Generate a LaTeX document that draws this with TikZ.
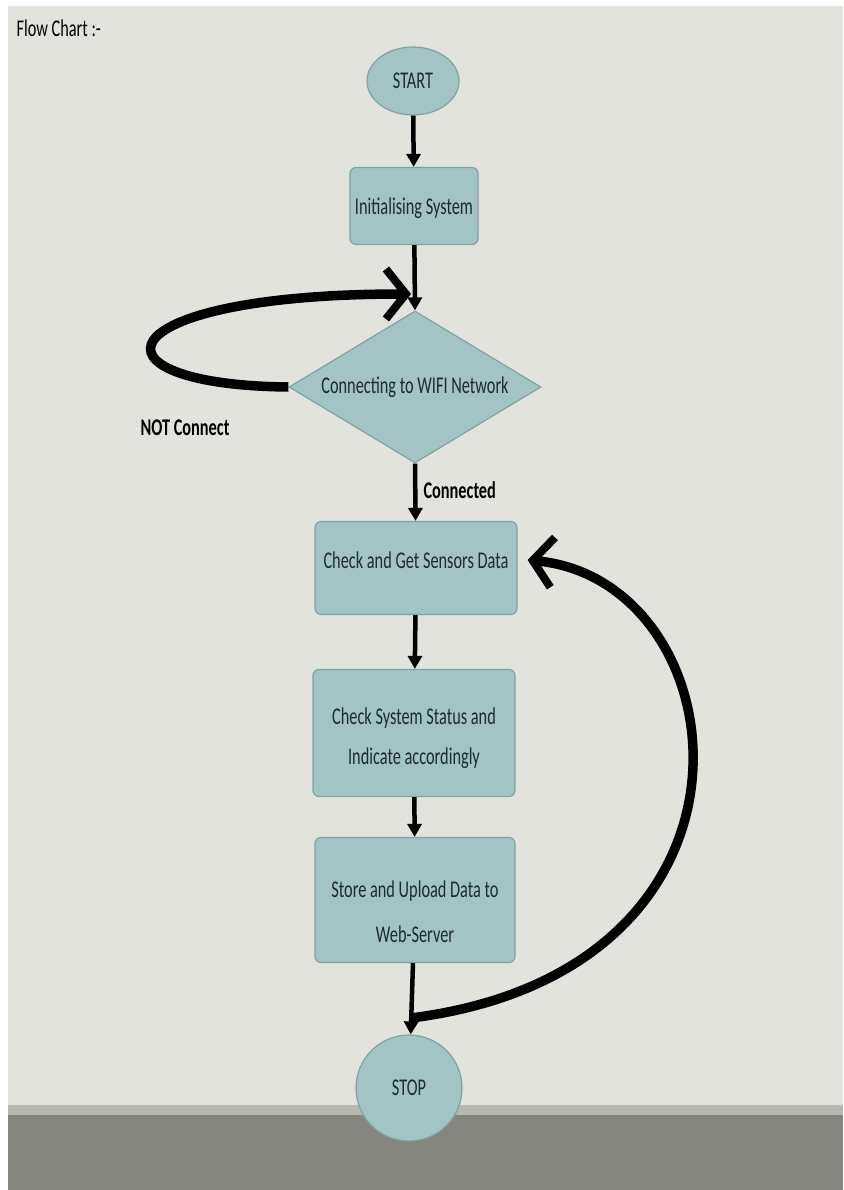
\documentclass[tikz,border=0pt]{standalone}
\usepackage{fontspec}
\setmainfont{Carlito}[FakeStretch=0.68]
\usetikzlibrary{shapes.geometric,arrows.meta}
\definecolor{bg}{HTML}{E3E3DD}
\definecolor{band}{HTML}{B8B8B1}
\definecolor{floor}{HTML}{85857F}
\definecolor{nfill}{HTML}{A3C4C4}
\definecolor{nline}{HTML}{7FA2A3}
\definecolor{ntext}{HTML}{1E2A30}
% fixed-size text box: width, height, downward shift of text, baselineskip, content
\newcommand{\mybt}[5]{\parbox[c][#2][c]{#1}{\centering\fontsize{24}{#4}\selectfont\vspace*{\dimexpr #3 + #3\relax}#5\par}}
\newcommand{\mybtup}[5]{\parbox[c][#2][c]{#1}{\centering\fontsize{24}{#4}\selectfont #5\par\vspace*{\dimexpr #3 + #3\relax}}}
\tikzset{
  every node/.style={text=ntext},
  procbox/.style={draw=nline, line width=1.2pt, fill=nfill, rounded corners=6pt, align=center, inner sep=0pt},
  termnode/.style={ellipse, draw=nline, line width=1.2pt, fill=nfill, inner sep=0pt, font=\fontsize{24}{26}\selectfont},
  decnode/.style={diamond, draw=nline, line width=1.2pt, fill=nfill, inner sep=0pt, font=\fontsize{24}{26}\selectfont},
  flowarrow/.style={line width=4.5pt, -{Triangle[length=13pt,width=14pt]}},
  looparrow/.style={line width=9.5pt, -{Straight Barb[length=20pt,width=50pt,line width=8pt]}},
  lbl/.style={font=\bfseries\fontsize{24}{26}\selectfont, text=black}
}
\begin{document}
\begin{tikzpicture}[x=1pt,y=-1pt]
\useasboundingbox (0,0) rectangle (843,1190);
% background
\fill[white] (0,0) rectangle (843,1190);
\fill[bg] (8,6) rectangle (843,1105);
\fill[band] (8,1105) rectangle (843,1115);
\fill[floor] (8,1115) rectangle (843,1190);

\node[anchor=west, font=\fontsize{24}{26}\selectfont, text=black] (title) at (13,28) {Flow Chart :-};

\node[termnode, minimum width=92pt, minimum height=68pt] (start) at (413,81) {START};
\node[procbox] (init) at (414,206) {\mybt{128pt}{77pt}{2pt}{26pt}{Initialising System}};
\node[decnode, minimum width=252pt, minimum height=152pt] (wifi) at (415,387) {\makebox[0pt]{\raisebox{-2pt}{Connecting to WIFI Network}}};
\node[procbox] (sense) at (416,568) {\mybtup{202pt}{93pt}{8pt}{26pt}{Check and Get Sensors Data}};
\node[procbox] (status) at (414,733) {\mybt{202pt}{127pt}{5pt}{40pt}{Check System Status and\\Indicate accordingly}};
\node[procbox] (store) at (415,900) {\mybt{200pt}{125pt}{12pt}{45pt}{Store and Upload Data to\\Web-Server}};
\node[termnode, minimum width=106pt, minimum height=106pt] (stop) at (409,1088) {STOP};

\node[lbl] (notc) at (185,428) {NOT Connect};
\node[lbl, anchor=west] (conn) at (420,490) {Connected};

\coordinate (looptip) at (411,294);
\coordinate (backstart) at (411,1018);

\draw[flowarrow] (start) -- (init);
\draw[flowarrow] (init) -- (wifi.north);
\draw[flowarrow] (wifi.south) -- (sense);
\draw[flowarrow] (sense) -- (status);
\draw[flowarrow] (status) -- (store);
\draw[flowarrow] (store) -- (stop);

\draw[looparrow] (wifi.west) .. controls (80,385) and (100,294) .. (looptip);
\draw[looparrow] (backstart) .. controls (790,970) and (740,580) .. ([xshift=10pt,yshift=8pt]sense.east);
\end{tikzpicture}
\end{document}
